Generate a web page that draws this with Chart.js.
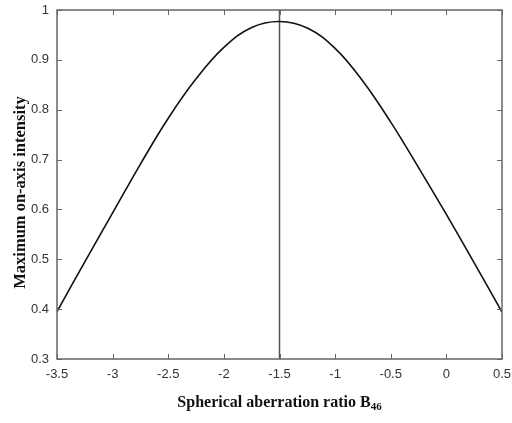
<!DOCTYPE html>
<html>
<head>
<meta charset="utf-8">
<script src="https://cdn.jsdelivr.net/npm/chart.js@4.4.0/dist/chart.umd.min.js"></script>
<style>
  html, body { margin: 0; padding: 0; background: #fff; }
  #wrap { width: 512px; height: 423px; }
</style>
</head>
<body>
<div id="wrap"><canvas id="chart" width="512" height="423"></canvas></div>
<script>
// values
let ratio = [-3.5, -3.25, -3, -2.75, -2.5, -2.25, -2, -1.75, -1.5, -1.25, -1, -0.75, -0.5, -0.25, 0, 0.25, 0.5];
let intensity = [0.395, 0.495, 0.593, 0.691, 0.783, 0.862, 0.925, 0.965, 0.977, 0.964, 0.923, 0.857, 0.775, 0.684, 0.590, 0.493, 0.394];
let markerX = [-1.5, -1.5];
let markerY = [0.3, 1];
let xTicks = [-3.5, -3, -2.5, -2, -1.5, -1, -0.5, 0, 0.5];
let yTicks = [0.3, 0.4, 0.5, 0.6, 0.7, 0.8, 0.9, 1];

function toPoints(xs, ys) {
    return xs.map(function (x, i) { return { x: x, y: ys[i] }; });
}

// frame, inward ticks and axis titles
let framePlugin = {
    id: 'frame',
    afterDraw: function (chart) {
        var c = chart.ctx;
        var a = chart.chartArea;
        var sx = chart.scales.x;
        var sy = chart.scales.y;
        c.save();
        c.strokeStyle = '#666';
        c.lineWidth = 1.5;
        c.strokeRect(a.left, a.top, a.right - a.left, a.bottom - a.top);
        c.lineWidth = 1;
        xTicks.forEach(function (v) {
            var px = Math.round(sx.getPixelForValue(v)) + 0.5;
            c.beginPath();
            c.moveTo(px, a.bottom); c.lineTo(px, a.bottom - 5);
            c.moveTo(px, a.top); c.lineTo(px, a.top + 5);
            c.stroke();
        });
        yTicks.forEach(function (v) {
            var py = Math.round(sy.getPixelForValue(v)) + 0.5;
            c.beginPath();
            c.moveTo(a.left, py); c.lineTo(a.left + 5, py);
            c.moveTo(a.right, py); c.lineTo(a.right - 5, py);
            c.stroke();
        });

        c.fillStyle = '#111';
        c.textBaseline = 'alphabetic';
        var main = 'Spherical aberration ratio B';
        var sub = '46';
        c.font = 'bold 16px "Liberation Serif", serif';
        var w1 = c.measureText(main).width;
        c.font = 'bold 11px "Liberation Serif", serif';
        var w2 = c.measureText(sub).width;
        var cx = (a.left + a.right) / 2;
        var x0 = cx - (w1 + w2) / 2;
        c.font = 'bold 16px "Liberation Serif", serif';
        c.textAlign = 'left';
        c.fillText(main, x0, 407);
        c.font = 'bold 11px "Liberation Serif", serif';
        c.fillText(sub, x0 + w1, 410);

        c.translate(25, (a.top + a.bottom) / 2 + 8);
        c.rotate(-Math.PI / 2);
        c.textAlign = 'center';
        c.font = 'bold 16.5px "Liberation Serif", serif';
        c.fillText('Maximum on-axis intensity', 0, 0);
        c.restore();
    }
};

let ctx = document.getElementById('chart').getContext('2d');
let myChart = new Chart(ctx, {
    type: 'line',
    data: {
        datasets: [{
            data: toPoints(ratio, intensity),
            borderColor: '#111',
            borderWidth: 1.6,
            pointRadius: 0,
            tension: 0.4,
            fill: false
        }, {
            data: toPoints(markerX, markerY),
            borderColor: '#555',
            borderWidth: 1.5,
            pointRadius: 0,
            fill: false
        }]
    },
    options: {
        responsive: false,
        animation: false,
        layout: { padding: { top: 10, right: 10, left: 0, bottom: 0 } },
        plugins: { legend: { display: false }, tooltip: { enabled: false } },
        scales: {
            x: {
                type: 'linear',
                min: -3.5,
                max: 0.5,
                grid: { display: false },
                border: { display: false },
                afterBuildTicks: function (s) { s.ticks = xTicks.map(function (v) { return { value: v }; }); },
                afterFit: function (s) { s.height = 64; },
                ticks: {
                    color: '#333',
                    padding: 0,
                    maxRotation: 0,
                    font: { family: '"Liberation Sans", Arial, sans-serif', size: 13 },
                    callback: function (v) { return String(v); }
                }
            },
            y: {
                min: 0.3,
                max: 1,
                grid: { display: false },
                border: { display: false },
                afterBuildTicks: function (s) { s.ticks = yTicks.map(function (v) { return { value: v }; }); },
                afterFit: function (s) { s.width = 57; },
                ticks: {
                    color: '#333',
                    padding: 0,
                    font: { family: '"Liberation Sans", Arial, sans-serif', size: 13 },
                    callback: function (v) { return String(v); }
                }
            }
        }
    },
    plugins: [framePlugin]
});
</script>
</body>
</html>
